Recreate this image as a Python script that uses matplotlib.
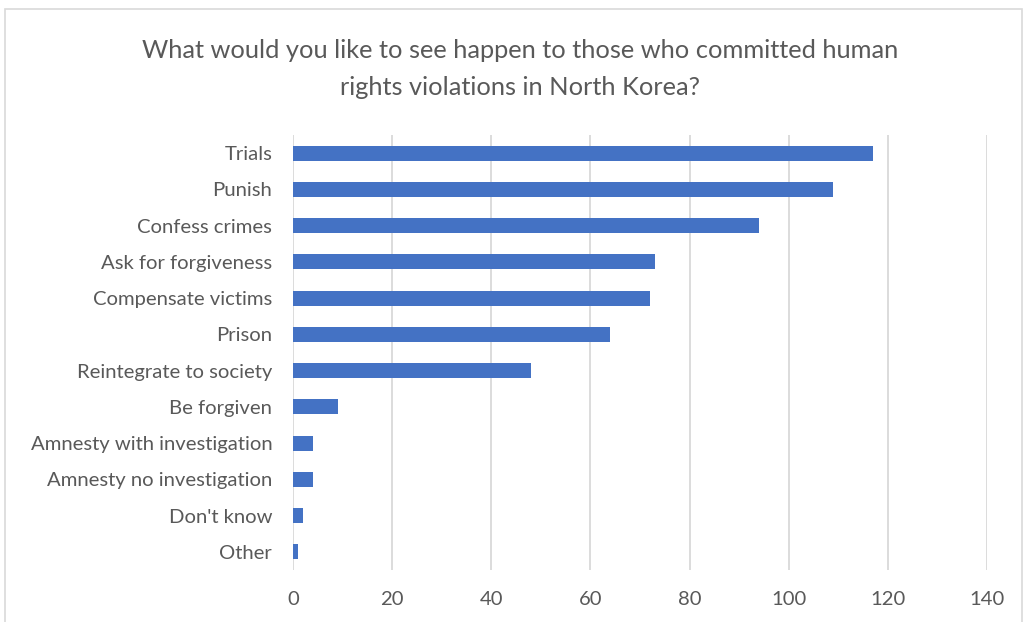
import matplotlib.pyplot as plt
from matplotlib.patches import Rectangle

categories = [
    "Trials", "Punish", "Confess crimes", "Ask for forgiveness",
    "Compensate victims", "Prison", "Reintegrate to society", "Be forgiven",
    "Amnesty with investigation", "Amnesty no investigation", "Don't know", "Other",
]
counts = [117, 109, 94, 73, 72, 64, 48, 9, 4, 4, 2, 1]
x_ticks = [0, 20, 40, 60, 80, 100, 120, 140]

TITLE = "What would you like to see happen to those who committed human\nrights violations in North Korea?"
BAR_COLOR = "#4472C4"
TEXT_COLOR = "#595959"
GRID_COLOR = "#D9D9D9"

plt.rcParams["font.family"] = ["Lato", "DejaVu Sans"]

W, H = 1027, 622
fig = plt.figure(figsize=(W / 100, H / 100), dpi=100)
ax = fig.add_axes([293 / W, 1 - 570 / H, (987 - 293) / W, (570 - 135) / H])

# outer chart frame
fig.patches.append(Rectangle((5 / W, -0.02), (1022 - 5) / W, 1.02 - 9 / H,
                             transform=fig.transFigure, fill=False,
                             edgecolor="#D9D9D9", linewidth=1.2))

y = list(range(len(categories)))
ax.barh(y, counts, height=0.42, color=BAR_COLOR, zorder=3)
ax.set_ylim(len(categories) - 0.5, -0.5)
ax.set_yticks(y)
ax.set_yticklabels(categories, fontsize=14.6, color=TEXT_COLOR)
ax.set_xlim(0, 140)
ax.set_xticks(x_ticks)
ax.set_xticklabels([str(t) for t in x_ticks], fontsize=14.6, color=TEXT_COLOR)
ax.tick_params(axis="both", length=0)
ax.tick_params(axis="y", pad=15)
ax.tick_params(axis="x", pad=15)
ax.grid(axis="x", color=GRID_COLOR, linewidth=1.3, zorder=0)
for s in ax.spines.values():
    s.set_visible(False)

fig.text(520 / W, 1 - 69 / H, TITLE, ha="center", va="center",
         fontsize=18.3, color=TEXT_COLOR, linespacing=1.75)

fig.savefig("out.png", dpi=100)
